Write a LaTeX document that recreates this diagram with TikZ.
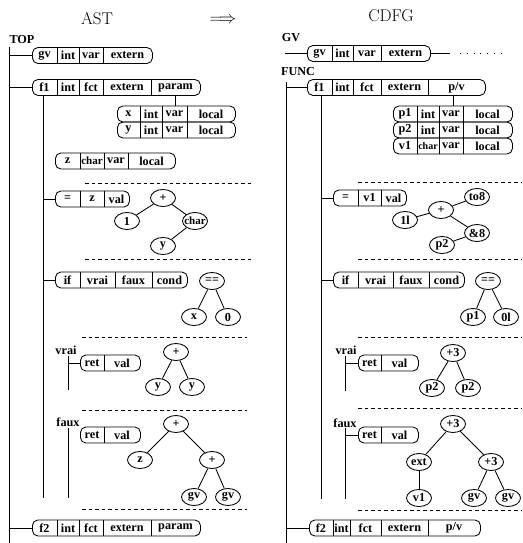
\documentclass[tikz,border=0pt]{standalone}
\usepackage{fontspec}
\newfontfamily\tms{Liberation Serif}
\usetikzlibrary{shapes.geometric}
\newcommand\record[4]{%
  \foreach \r/\t [remember=\r as \l (initially #3), count=\i] in {#4} {
    \node[cell] (#1-\i) at ({(\l+\r)/2},#2) {\t};
    \ifnum\i>1 \draw (\l,#2-8) -- (\l,#2+8); \fi
    \xdef\lastr{\r}
  }
  \node[recframe, minimum width={(\lastr-#3)*1pt}] (#1) at (#3,#2) {};
}
\begin{document}
\begin{tikzpicture}[x=1pt,y=-1pt, line width=0.85pt,
  lab/.style={font=\tms\bfseries\fontsize{12.2}{13}\selectfont, inner sep=0pt},
  cell/.style={lab},
  narrow/.style={font=\tms\bfseries\fontsize{11.6}{13}\selectfont, inner sep=0pt},
  recframe/.style={draw, rounded corners=5.5pt, inner sep=0pt, minimum height=16pt, anchor=west},
  enode/.style={draw, ellipse, inner sep=0pt, minimum width=25pt, minimum height=17pt, lab},
  sep/.style={dash pattern=on 3.5pt off 3pt, line width=0.8pt},
  head/.style={font=\fontsize{17}{20}\selectfont, inner sep=0pt}
]
\useasboundingbox (0,0) rectangle (522,543);

% headings
\node[head] (ast) at (97,19) {AST};
\node[head] (arr) at (223,20) {$\Longrightarrow$};
\node[head] (cdfg) at (391,16) {CDFG};

% ================= LEFT (AST) =================
\node[lab] (top) at (22,40) {TOP};
\coordinate (vL) at (9,47);
\coordinate (vLend) at (9,543);
\draw (vL) -- (vLend);

\record{Lgv}{55.5}{32}{57/gv, 79/int, 103/var, 152/extern}
\record{Lf1}{87.5}{32}{57/f1, 79/int, 103/fct, 151/extern, 200/param}
\record{Lx}{114}{117}{140/x, 162/int, 187/var, 235/local}
\record{Ly}{130}{117}{140/y, 162/int, 187/var, 235/local}
\record{Lz}{161}{55}{80/z, 104/{\fontsize{11}{12}\selectfont char}, 128/var, 175/local}
\record{Leq}{199}{55}{80/=, 104/z, 129/val}
\record{Lif}{280}{55}{80/if, 115/vrai, 152/faux, 187/cond}
\record{Lret1}{363}{80}{104/ret, 140/val}
\record{Lret2}{435}{80}{104/ret, 140/val}
\record{Lf2}{528}{32}{57/f2, 79/int, 103/fct, 151/extern, 200/param}

\draw (Lgv.west -| vL) -- (Lgv.west);
\draw (Lf1.west -| vL) -- (Lf1.west);
\draw (Lf2.west -| vL) -- (Lf2.west);

\coordinate (fvL) at (43,498);
\draw (fvL |- Lf1.south) -- (fvL);
\draw (Leq.west -| fvL) -- (Leq.west);
\draw (Lif.west -| fvL) -- (Lif.west);
\draw (Lf1-5.center |- Lf1.south) -- (Lf1-5.center |- Lx.north);

\node[lab] (vraiL) at (66,350) {vrai};
\coordinate (vvL1) at (68,356);
\coordinate (vvL2) at (68,390);
\draw (vvL1) -- (vvL2);
\draw (Lret1.west -| vvL1) -- (Lret1.west);

\node[lab] (fauxL) at (68,422) {faux};
\coordinate (fxL1) at (68,428);
\coordinate (fxL2) at (68,498);
\draw (fxL1) -- (fxL2);

% separators left
\draw[sep] (85,183) -- (252,183);
\draw[sep] (85,259) -- (252,259);
\draw[sep] (82,337) -- (247,337);
\draw[sep] (82,410) -- (247,410);
\draw[sep] (82,509) -- (247,509);

% trees left
\node[enode] (pA) at (163,198) {\makebox[12pt]{+}};
\node[enode] (oneA) at (127,221) {\makebox[12pt]{1}};
\node[enode] (chA) at (195,221) {\makebox[12pt]{\fontsize{11}{12}\selectfont char}};
\node[enode] (yA) at (163,246) {\makebox[12pt]{y}};
\draw (pA) -- (oneA);
\draw (pA) -- (chA);
\draw (chA) -- (yA);

\node[enode] (eqA) at (212,281) {\makebox[12pt]{==}};
\node[enode] (xA) at (194,317) {\makebox[12pt]{x}};
\node[enode] (zeroA) at (228,317) {\makebox[12pt]{0}};
\draw (eqA) -- (xA);
\draw (eqA) -- (zeroA);

\node[enode] (pB) at (176,352) {\makebox[12pt]{+}};
\node[enode] (yB1) at (158,387) {\makebox[12pt]{y}};
\node[enode] (yB2) at (192,387) {\makebox[12pt]{y}};
\draw (pB) -- (yB1);
\draw (pB) -- (yB2);

\node[enode] (pC) at (176,424) {\makebox[12pt]{+}};
\node[enode] (zC) at (140,460) {\makebox[12pt]{z}};
\node[enode] (pD) at (212,460) {\makebox[12pt]{+}};
\node[enode] (gC1) at (194,497) {\makebox[12pt]{gv}};
\node[enode] (gC2) at (228,497) {\makebox[12pt]{gv}};
\draw (pC) -- (zC);
\draw (pC) -- (pD);
\draw (pD) -- (gC1);
\draw (pD) -- (gC2);

% ================= RIGHT (CDFG) =================
\node[lab] (gvlab) at (291,38) {GV};
\record{Rgv}{53.5}{307}{332/gv, 353/int, 381/var, 430/extern}
\coordinate (gvs) at (285,53.5);
\coordinate (gve) at (450,53.5);
\coordinate (dots1) at (460,53.5);
\coordinate (dots2) at (503,53.5);
\draw (gvs) -- (Rgv.west);
\draw (Rgv.east) -- (gve);
\draw[line width=1pt, dash pattern=on 0.8pt off 6pt] (dots1) -- (dots2);

\node[lab] (func) at (298,72) {FUNC};
\coordinate (vR) at (286,82);
\coordinate (vRend) at (286,543);
\draw (vR) -- (vRend);

\record{Rf1}{87.5}{307}{332/f1, 353/int, 381/fct, 428/extern, 485/{p/v}}
\record{Rp1}{114}{393}{417/p1, 439/int, 463/var, 512/local}
\record{Rp2}{130}{393}{417/p2, 439/int, 463/var, 512/local}
\record{Rv1}{146}{393}{417/v1, 439/{\fontsize{10}{12}\selectfont char}, 463/var, 512/local}
\record{Req}{198}{333}{358/=, 381/v1, 406/val}
\record{Rif}{280}{333}{358/if, 393/vrai, 429/faux, 464/cond}
\record{Rret1}{363}{358}{381/ret, 418/val}
\record{Rret2}{435}{358}{381/ret, 418/val}
\record{Rf2}{528}{309}{333/f2, 350/int, 381/fct, 428/extern, 480/{p/v}}

\draw (Rf1.west -| vR) -- (Rf1.west);
\draw (Rf2.west -| vR) -- (Rf2.west);

\coordinate (fvR) at (321,499);
\draw (fvR |- Rf1.south) -- (fvR);
\draw (Req.west -| fvR) -- (Req.west);
\draw (Rif.west -| fvR) -- (Rif.west);
\coordinate (pvx) at (453,0);
\draw (pvx |- Rf1.south) -- (pvx |- Rp1.north);

\node[lab] (vraiR) at (346,350) {vrai};
\coordinate (vvR1) at (345,356);
\coordinate (vvR2) at (345,391);
\draw (vvR1) -- (vvR2);
\draw (Rret1.west -| vvR1) -- (Rret1.west);

\node[lab] (fauxR) at (345,423) {faux};
\coordinate (fxR1) at (345,428);
\coordinate (fxR2) at (345,499);
\draw (fxR1) -- (fxR2);
\draw (Rret2.west -| fxR1) -- (Rret2.west);

% separators right
\draw[sep] (358,182) -- (522,182);
\draw[sep] (358,259) -- (522,259);
\draw[sep] (358,337) -- (522,337);
\draw[sep] (358,408) -- (522,408);
\draw[sep] (358,510) -- (522,510);

% trees right
\node[enode] (pE) at (441,210) {\makebox[12pt]{+}};
\node[enode] (oneE) at (405,220) {\makebox[12pt]{1l}};
\node[enode] (toE) at (477,197) {\makebox[12pt]{to8}};
\node[enode] (ampE) at (477,233) {\makebox[12pt]{\&8}};
\node[enode] (p2E) at (442,245) {\makebox[12pt]{p2}};
\draw (oneE) -- (pE);
\draw (pE) -- (toE);
\draw (pE) -- (ampE);
\draw (p2E) -- (ampE);

\node[enode] (eqF) at (488,281) {\makebox[12pt]{==}};
\node[enode] (p1F) at (473,317) {\makebox[12pt]{p1}};
\node[enode] (zeroF) at (506,317) {\makebox[12pt]{0l}};
\draw (eqF) -- (p1F);
\draw (eqF) -- (zeroF);

\node[enode] (pG) at (453,353) {\makebox[12pt]{+3}};
\node[enode] (p2G1) at (432,388) {\makebox[12pt]{p2}};
\node[enode] (p2G2) at (468,388) {\makebox[12pt]{p2}};
\draw (pG) -- (p2G1);
\draw (pG) -- (p2G2);

\node[enode] (pH) at (453,424) {\makebox[12pt]{+3}};
\node[enode] (extH) at (419,462) {\makebox[12pt]{ext}};
\node[enode] (pI) at (491,462) {\makebox[12pt]{+3}};
\node[enode] (v1H) at (419,498) {\makebox[12pt]{v1}};
\node[enode] (gH1) at (474,498) {\makebox[12pt]{gv}};
\node[enode] (gH2) at (508,498) {\makebox[12pt]{gv}};
\draw (pH) -- (extH);
\draw (pH) -- (pI);
\draw (extH) -- (v1H);
\draw (pI) -- (gH1);
\draw (pI) -- (gH2);
\end{tikzpicture}
\end{document}
